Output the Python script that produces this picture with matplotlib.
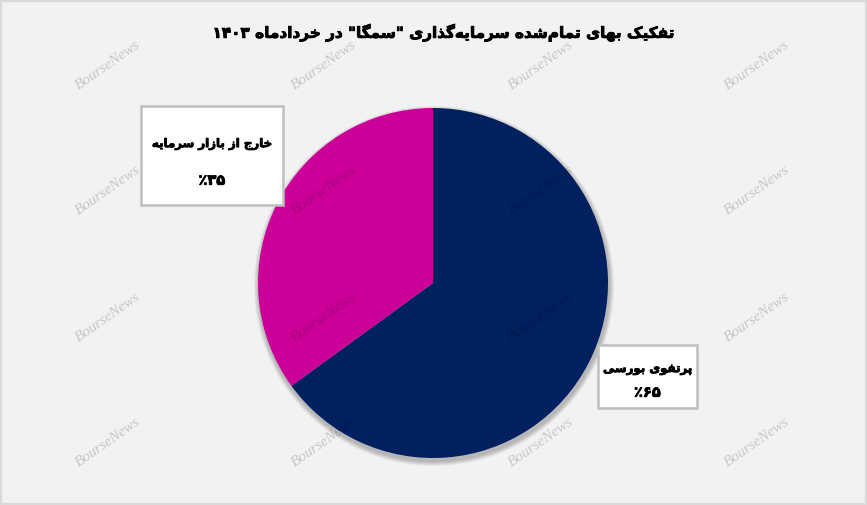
import re
import matplotlib
matplotlib.use('Agg')
import matplotlib.pyplot as plt
import matplotlib.patheffects as pe
from matplotlib.patches import Rectangle, Circle

# داده‌ها
labels = ['پرتفوی بورسی', 'خارج از بازار سرمایه']
shares = [65, 35]
colors = ['#002060', '#CC0099']
title = 'تفکیک بهای تمام\u200cشده سرمایه\u200cگذاری "سمگا" در خردادماه ۱۴۰۳'

# فرم‌های نمایشی حروف (ایزوله، پایانی، آغازی، میانی)
forms = {
    'ا': ('\ufe8d', '\ufe8e'), 'د': ('\ufea9', '\ufeaa'), 'ذ': ('\ufeab', '\ufeac'),
    'ر': ('\ufead', '\ufeae'), 'ز': ('\ufeaf', '\ufeb0'), 'و': ('\ufeed', '\ufeee'),
    'ب': ('\ufe8f', '\ufe90', '\ufe91', '\ufe92'), 'پ': ('\ufb56', '\ufb57', '\ufb58', '\ufb59'),
    'ت': ('\ufe95', '\ufe96', '\ufe97', '\ufe98'), 'ج': ('\ufe9d', '\ufe9e', '\ufe9f', '\ufea0'),
    'خ': ('\ufea5', '\ufea6', '\ufea7', '\ufea8'), 'س': ('\ufeb1', '\ufeb2', '\ufeb3', '\ufeb4'),
    'ش': ('\ufeb5', '\ufeb6', '\ufeb7', '\ufeb8'), 'ف': ('\ufed1', '\ufed2', '\ufed3', '\ufed4'),
    'ک': ('\ufb8e', '\ufb8f', '\ufb90', '\ufb91'), 'گ': ('\ufb92', '\ufb93', '\ufb94', '\ufb95'),
    'م': ('\ufee1', '\ufee2', '\ufee3', '\ufee4'), 'ه': ('\ufee9', '\ufeea', '\ufeeb', '\ufeec'),
    'ی': ('\ufbfc', '\ufbfd', '\ufbfe', '\ufbff'),
}


def fa(text):
    # شکل‌دهی ساده و برگرداندن ترتیب برای نمایش راست به چپ
    out = []
    for i, ch in enumerate(text):
        if ch not in forms:
            if ch != '\u200c':
                out.append(ch)
            continue
        prev = text[i - 1] if i > 0 else ''
        nxt = text[i + 1] if i + 1 < len(text) else ''
        jp = prev in forms and len(forms[prev]) == 4
        jn = len(forms[ch]) == 4 and nxt in forms
        f = forms[ch]
        if jp and jn:
            out.append(f[3])
        elif jp:
            out.append(f[1])
        elif jn:
            out.append(f[2])
        else:
            out.append(f[0])
    s = ''.join(out)[::-1]
    return re.sub(r'[۰-۹0-9]+', lambda m: m.group()[::-1], s)


def fa_num(n):
    return str(n).translate(str.maketrans('0123456789', '۰۱۲۳۴۵۶۷۸۹'))


W, H = 867, 505
fig = plt.figure(figsize=(8.67, 5.05), dpi=100)
fig.patch.set_facecolor('#f2f2f2')
ax = fig.add_axes([0, 0, 1, 1])

# سایه
cx, cy, r = 433, 222, 175
for k in range(6):
    ax.add_patch(Circle((cx + 1, cy - 3), r + 1 + k * 0.8, color='black',
                        alpha=0.045, lw=0, zorder=1))

ax.pie(shares, colors=colors, startangle=90, counterclock=False,
       center=(cx, cy), radius=r, frame=True,
       wedgeprops=dict(linewidth=0, zorder=2))
ax.set_xlim(0, W)
ax.set_ylim(0, H)
ax.set_aspect('equal')
ax.axis('off')

# واترمارک
for wx in [108, 324, 541, 757]:
    for wy in [65, 190, 317, 442]:
        ax.text(wx, H - wy, 'BourseNews', rotation=35, ha='center', va='center',
                fontsize=11, family='Liberation Serif', style='italic',
                color='black', alpha=0.18, zorder=5)

bold = [pe.withStroke(linewidth=0.6, foreground='black')]

# برچسب‌ها
boxes = [(598, 345, 99, 63), (141, 106, 142, 99)]
for (bx, by, bw, bh), lab, val in zip(boxes, labels, shares):
    ax.add_patch(Rectangle((bx, H - by - bh), bw, bh, facecolor='white',
                           edgecolor='#bfbfbf', lw=1.8, zorder=6))
    tx = bx + bw / 2
    ax.text(tx, H - by - bh * 0.38, fa(lab), ha='center', va='center',
            fontsize=8.5, fontweight='bold', family='DejaVu Sans',
            path_effects=bold, zorder=7)
    ax.text(tx, H - by - bh * 0.75, '٪' + fa_num(val),
            ha='center', va='center', fontsize=10.5, fontweight='bold',
            family='DejaVu Sans', path_effects=bold, zorder=7)

ax.text(443, H - 33, fa(title), ha='center', va='center', fontsize=11,
        fontweight='bold', family='DejaVu Sans', path_effects=bold, zorder=7)

# قاب
fig.add_artist(Rectangle((0, 0), 1, 1, transform=fig.transFigure, fill=False,
                         edgecolor='#d9d9d9', lw=3))

fig.savefig('out.png', dpi=100, facecolor=fig.get_facecolor())
